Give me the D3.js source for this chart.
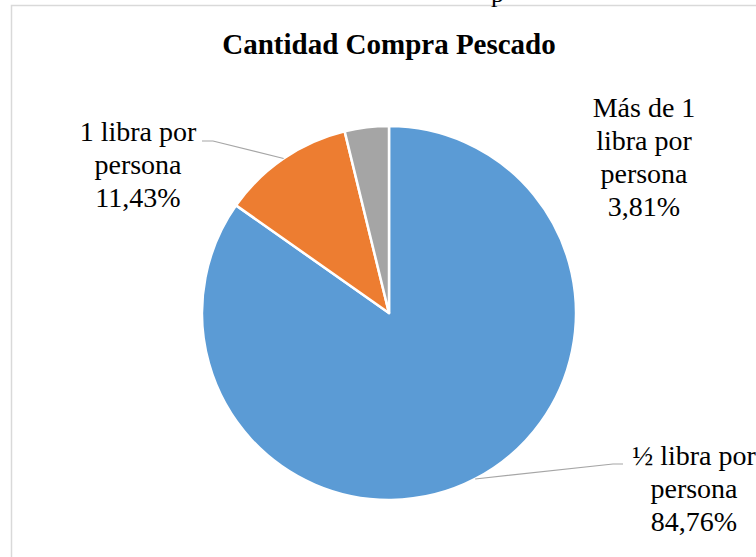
<!DOCTYPE html>
<html>
<head>
<meta charset="utf-8">
<script src="https://cdn.jsdelivr.net/npm/d3@7"></script>
<style>
  body { margin: 0; background: #fff; }
</style>
</head>
<body>
<div id="chart"></div>
<script>
let svgWidth = 756;
let svgHeight = 557;

// data
let categories = ["½ libra por persona", "1 libra por persona", "Más de 1 libra por persona"];
let values = [84.76, 11.43, 3.81];
let labelLines = [["½ libra por", "persona"], ["1 libra por", "persona"], ["Más de 1", "libra por", "persona"]];
let percentLabels = ["84,76%", "11,43%", "3,81%"];
let colors = ["#5B9BD5", "#ED7D31", "#A5A5A5"];

// layout
let cx = 389, cy = 313, radius = 187;
let lineHeight = 33;
let serif = "'Liberation Serif', 'Times New Roman', Times, serif";
// label anchor (text centre x, first baseline y) and leader elbow
let labelLayout = [
  { x: 694, y: 465, elbow: [613, 464], end: [623, 464] },
  { x: 138, y: 141, elbow: [213, 141], end: [202, 141] },
  { x: 644, y: 117, elbow: null, end: null }
];

let svg = d3.select("#chart")
  .append("svg")
  .attr("width", svgWidth)
  .attr("height", svgHeight);

// chart area border (cut off on the right/bottom)
svg.append("rect")
  .attr("x", 11.5)
  .attr("y", 5.5)
  .attr("width", 800)
  .attr("height", 600)
  .attr("fill", "none")
  .attr("stroke", "#d9d9d9")
  .attr("stroke-width", 1.5);

// fragment of document text above the chart
svg.append("text")
  .attr("x", 491)
  .attr("y", 2)
  .attr("font-family", serif)
  .attr("font-size", 26)
  .text("p");

svg.append("text")
  .attr("x", cx)
  .attr("y", 54)
  .attr("text-anchor", "middle")
  .attr("font-family", serif)
  .attr("font-size", 29)
  .attr("font-weight", "bold")
  .text("Cantidad Compra Pescado");

let pie = d3.pie().sort(null).value(d => d);
let arcs = pie(values);

let arc = d3.arc().innerRadius(0).outerRadius(radius);

let pieGroup = svg.append("g")
  .attr("transform", `translate(${cx}, ${cy})`);

pieGroup.selectAll("path")
  .data(arcs)
  .enter()
  .append("path")
  .attr("d", arc)
  .attr("fill", (d, i) => colors[i])
  .attr("stroke", "#fff")
  .attr("stroke-width", 2.5)
  .attr("stroke-linejoin", "round");

// leader lines
let edge = d3.arc().innerRadius(radius).outerRadius(radius);
arcs.forEach((d, i) => {
  let lay = labelLayout[i];
  if (!lay.elbow) return;
  let p = edge.centroid(d);
  svg.append("polyline")
    .attr("points", [[cx + p[0], cy + p[1]], lay.elbow, lay.end].map(q => q.join(",")).join(" "))
    .attr("fill", "none")
    .attr("stroke", "#a6a6a6")
    .attr("stroke-width", 1.2);
});

// data labels
arcs.forEach((d, i) => {
  let lay = labelLayout[i];
  let t = svg.append("text")
    .attr("text-anchor", "middle")
    .attr("font-family", serif)
    .attr("font-size", 28);
  labelLines[i].concat([percentLabels[i]]).forEach((line, j) => {
    t.append("tspan")
      .attr("x", lay.x)
      .attr("y", lay.y + j * lineHeight)
      .text(line);
  });
});
</script>
</body>
</html>
